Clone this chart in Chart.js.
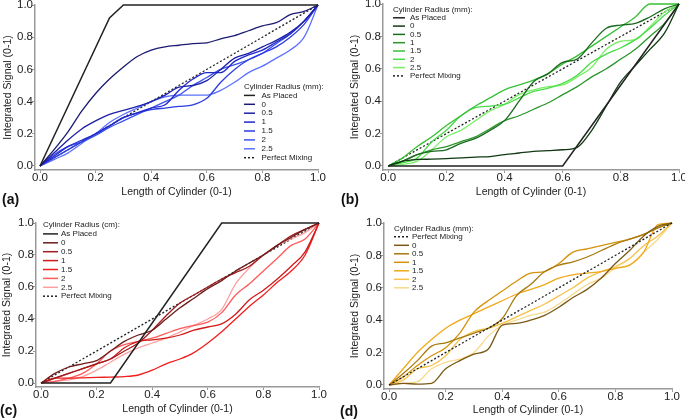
<!DOCTYPE html>
<html>
<head>
<meta charset="utf-8">
<script src="https://cdn.jsdelivr.net/npm/chart.js@4/dist/chart.umd.min.js"></script>
<style>
  body { margin: 0; background: #fff; width: 685px; height: 420px; position: relative; overflow: hidden; font-family: "Liberation Sans", Arial, sans-serif; }
  canvas { position: absolute; }
  .tag { position: absolute; font-weight: bold; font-size: 14px; color: #111; }
</style>
</head>
<body>
<canvas id="pa" width="340" height="210" style="left:0;top:0"></canvas>
<canvas id="pb" width="345" height="210" style="left:340px;top:0"></canvas>
<canvas id="pc" width="340" height="210" style="left:0;top:210px"></canvas>
<canvas id="pd" width="345" height="210" style="left:340px;top:210px"></canvas>
<div class="tag" style="left:2px;top:191px">(a)</div>
<div class="tag" style="left:341px;top:191px">(b)</div>
<div class="tag" style="left:0;top:402px">(c)</div>
<div class="tag" style="left:340px;top:403px">(d)</div>
<script>
// position along the cylinder, shared by every measured curve
var xPos = [0, 0.05, 0.1, 0.15, 0.2, 0.25, 0.3, 0.35, 0.4, 0.45, 0.5, 0.55, 0.6, 0.65, 0.7, 0.75, 0.8, 0.85, 0.9, 0.95, 1];
var radii = ['0', '0.5', '1', '1.5', '2', '2.5'];
var tickVals = [0, 0.2, 0.4, 0.6, 0.8, 1.0];
var mixX = [0, 1];
var mixY = [0, 1];

// (a)
var placedAx = [0, 0.25, 0.3, 1];
var placedAy = [0, 0.92, 1, 1];
var a0  = [0, 0.10, 0.21, 0.34, 0.45, 0.54, 0.615, 0.68, 0.72, 0.74, 0.75, 0.76, 0.765, 0.79, 0.81, 0.84, 0.87, 0.89, 0.94, 0.96, 1];
var a05 = [0, 0.08, 0.16, 0.23, 0.28, 0.32, 0.345, 0.37, 0.40, 0.44, 0.49, 0.50, 0.53, 0.60, 0.67, 0.70, 0.74, 0.78, 0.83, 0.90, 1];
var a1  = [0, 0.06, 0.12, 0.16, 0.20, 0.25, 0.30, 0.33, 0.36, 0.38, 0.47, 0.54, 0.58, 0.58, 0.65, 0.69, 0.72, 0.77, 0.82, 0.90, 1];
var a15 = [0, 0.05, 0.10, 0.15, 0.20, 0.25, 0.30, 0.33, 0.35, 0.36, 0.37, 0.38, 0.42, 0.52, 0.60, 0.66, 0.70, 0.74, 0.80, 0.88, 1];
var a2  = [0, 0.07, 0.12, 0.15, 0.19, 0.24, 0.28, 0.32, 0.36, 0.40, 0.44, 0.50, 0.55, 0.60, 0.63, 0.66, 0.70, 0.76, 0.82, 0.90, 1];
var a25 = [0, 0.04, 0.08, 0.14, 0.20, 0.27, 0.32, 0.36, 0.40, 0.43, 0.44, 0.44, 0.44, 0.47, 0.52, 0.58, 0.62, 0.67, 0.72, 0.80, 1];

// (b)
var placedBx = [0, 0.6, 1];
var placedBy = [0, 0, 1];
var b0  = [0, 0.03, 0.04, 0.042, 0.045, 0.05, 0.055, 0.058, 0.07, 0.08, 0.09, 0.095, 0.10, 0.115, 0.22, 0.37, 0.52, 0.62, 0.72, 0.82, 1];
var b05 = [0, 0.03, 0.07, 0.09, 0.10, 0.14, 0.17, 0.22, 0.28, 0.40, 0.52, 0.57, 0.64, 0.66, 0.76, 0.85, 0.87, 0.88, 0.92, 0.97, 1];
var b1  = [0, 0.03, 0.07, 0.10, 0.12, 0.15, 0.18, 0.23, 0.28, 0.31, 0.35, 0.39, 0.44, 0.49, 0.55, 0.60, 0.66, 0.72, 0.80, 0.88, 1];
var b15 = [0, 0.05, 0.12, 0.18, 0.25, 0.31, 0.37, 0.42, 0.47, 0.50, 0.53, 0.57, 0.63, 0.68, 0.74, 0.80, 0.86, 0.92, 1.0, 1.0, 1];
var b2  = [0, 0.02, 0.05, 0.15, 0.22, 0.31, 0.36, 0.37, 0.38, 0.42, 0.46, 0.48, 0.51, 0.56, 0.64, 0.69, 0.73, 0.78, 0.85, 0.93, 1];
var b25 = [0, 0.01, 0.03, 0.10, 0.18, 0.22, 0.28, 0.34, 0.38, 0.44, 0.47, 0.49, 0.50, 0.55, 0.61, 0.72, 0.77, 0.78, 0.86, 0.95, 1];

// (c)
var placedCx = [0, 0.25, 0.65, 1];
var placedCy = [0, 0, 1, 1];
var c0  = [0, 0.06, 0.10, 0.12, 0.14, 0.20, 0.26, 0.30, 0.33, 0.40, 0.47, 0.53, 0.59, 0.64, 0.70, 0.75, 0.80, 0.86, 0.91, 0.96, 1];
var c05 = [0, 0.03, 0.06, 0.09, 0.12, 0.15, 0.20, 0.25, 0.33, 0.42, 0.50, 0.55, 0.60, 0.65, 0.69, 0.73, 0.80, 0.86, 0.92, 0.96, 1];
var c1  = [0, 0.03, 0.06, 0.09, 0.12, 0.15, 0.22, 0.26, 0.27, 0.28, 0.30, 0.33, 0.35, 0.37, 0.43, 0.52, 0.58, 0.65, 0.73, 0.82, 1];
var c15 = [0, 0.03, 0.03, 0.032, 0.035, 0.037, 0.04, 0.05, 0.08, 0.12, 0.15, 0.19, 0.25, 0.32, 0.40, 0.48, 0.55, 0.63, 0.70, 0.80, 1];
var c2  = [0, 0.01, 0.03, 0.06, 0.12, 0.20, 0.24, 0.26, 0.28, 0.31, 0.34, 0.36, 0.38, 0.44, 0.55, 0.62, 0.70, 0.78, 0.86, 0.90, 1];
var c25 = [0, 0.01, 0.02, 0.04, 0.08, 0.13, 0.18, 0.22, 0.25, 0.28, 0.32, 0.36, 0.40, 0.46, 0.62, 0.72, 0.80, 0.86, 0.90, 0.94, 1];

// (d)
var d0  = [0, 0.01, 0.005, 0.01, 0.10, 0.15, 0.19, 0.22, 0.37, 0.38, 0.40, 0.43, 0.48, 0.54, 0.59, 0.66, 0.75, 0.83, 0.92, 0.98, 1];
var d05 = [0, 0.07, 0.15, 0.24, 0.26, 0.29, 0.32, 0.35, 0.41, 0.55, 0.62, 0.70, 0.74, 0.76, 0.79, 0.83, 0.87, 0.90, 0.93, 0.97, 1];
var d1  = [0, 0.05, 0.12, 0.18, 0.23, 0.32, 0.45, 0.52, 0.58, 0.64, 0.69, 0.70, 0.75, 0.82, 0.84, 0.86, 0.88, 0.90, 0.93, 0.97, 1];
var d15 = [0, 0.10, 0.20, 0.28, 0.35, 0.40, 0.44, 0.48, 0.52, 0.56, 0.59, 0.62, 0.66, 0.68, 0.69, 0.70, 0.72, 0.74, 0.82, 0.99, 1];
var d2  = [0, 0.03, 0.10, 0.12, 0.18, 0.28, 0.33, 0.35, 0.38, 0.42, 0.46, 0.50, 0.55, 0.60, 0.66, 0.70, 0.73, 0.78, 0.86, 0.92, 1];
var d25 = [0, 0.01, 0.02, 0.10, 0.14, 0.16, 0.20, 0.30, 0.37, 0.40, 0.43, 0.45, 0.50, 0.56, 0.62, 0.66, 0.72, 0.74, 0.82, 0.90, 1];

var blues   = ['#1a1a72', '#1c20a6', '#2228c8', '#2b3ce2', '#3a52f2', '#5c72ff'];
var greens  = ['#0f3a12', '#1b6a1f', '#2a962c', '#35c035', '#48dc46', '#7cee6a'];
var reds    = ['#6e1c1c', '#a01c1e', '#d01a1a', '#f01e1e', '#ff5a5a', '#ffa0a0'];
var ambers  = ['#7a5a18', '#a8780e', '#d4920a', '#f0a818', '#f5c24a', '#f8da88'];

function pts(xs, ys) {
  return xs.map(function (x, i) { return { x: x, y: ys[i] }; });
}

function curve(label, ys, color) {
  return { label: label, data: pts(xPos, ys), borderColor: color, borderWidth: 1.3,
    pointRadius: 0, cubicInterpolationMode: 'monotone', clip: false };
}

function placed(xs, ys) {
  return { label: 'As Placed', data: pts(xs, ys), borderColor: '#222', borderWidth: 1.5,
    pointRadius: 0, tension: 0, clip: false };
}

function mixing() {
  return { label: 'Perfect Mixing', data: pts(mixX, mixY), borderColor: '#222', borderWidth: 1.3,
    borderDash: [2, 2], pointRadius: 0, tension: 0, clip: false };
}

// small legend drawn inside the plot, like the original
var miniLegend = {
  id: 'miniLegend',
  afterDatasetsDraw: function (chart, args, o) {
    var ctx = chart.ctx;
    ctx.save();
    ctx.font = '8px "Liberation Sans", Arial, sans-serif';
    ctx.fillStyle = '#222';
    ctx.textBaseline = 'middle';
    ctx.fillText(o.title, o.x, o.y);
    chart.data.datasets.forEach(function (ds, i) {
      var y = o.y + o.row * (i + 1);
      ctx.strokeStyle = ds.borderColor;
      ctx.lineWidth = 1.5;
      ctx.setLineDash(ds.borderDash || []);
      ctx.beginPath();
      ctx.moveTo(o.x, y);
      ctx.lineTo(o.x + o.len, y);
      ctx.stroke();
      ctx.setLineDash([]);
      ctx.fillText(ds.label, o.x + o.len + o.gap, y);
    });
    ctx.restore();
  }
};

function axis(min, title, titlePad, size, tickPad) {
  return {
    type: 'linear', min: min, max: 1,
    afterBuildTicks: function (s) { s.ticks = tickVals.map(function (v) { return { value: v }; }); },
    afterFit: function (s) {
      if (s.isHorizontal()) s.height = size; else s.width = size;
      s.paddingLeft = s.paddingRight = s.paddingTop = s.paddingBottom = 0;
    },
    border: { color: '#999', width: 1.5 },
    grid: { drawOnChartArea: false, drawTicks: true, tickLength: 3, color: '#999' },
    ticks: { color: '#222', padding: tickPad, maxRotation: 0, font: { size: 11.5 },
      callback: function (v) { return Number(v).toFixed(1); } },
    title: { display: true, text: title, color: '#222', font: { size: 10.5 }, padding: titlePad }
  };
}

function panel(id, w, area, datasets, leg, yPad, xPad) {
  new Chart(document.getElementById(id), {
    type: 'line',
    data: { datasets: datasets },
    options: {
      responsive: false,
      animation: false,
      layout: { padding: { left: 0, top: area.top, right: w - area.right, bottom: 0 } },
      scales: {
        x: axis(-0.018, 'Length of Cylinder (0-1)', { top: 0, bottom: xPad }, 210 - area.bottom, -2),
        y: axis(-0.025, 'Integrated Signal (0-1)', { top: yPad, bottom: 0 }, area.left, -1)
      },
      plugins: { legend: { display: false }, tooltip: { enabled: false }, miniLegend: leg }
    },
    plugins: [miniLegend]
  });
}

panel('pa', 340, { left: 35, right: 318, top: 5, bottom: 170 }, [
  placed(placedAx, placedAy),
  curve(radii[0], a0, blues[0]), curve(radii[1], a05, blues[1]), curve(radii[2], a1, blues[2]),
  curve(radii[3], a15, blues[3]), curve(radii[4], a2, blues[4]), curve(radii[5], a25, blues[5]),
  mixing()
], { title: 'Cylinder Radius (mm):', x: 244, y: 86.5, row: 8.9, len: 11, gap: 6.5 }, 2, 12);

panel('pb', 345, { left: 43, right: 339, top: 4, bottom: 170 }, [
  placed(placedBx, placedBy),
  curve(radii[0], b0, greens[0]), curve(radii[1], b05, greens[1]), curve(radii[2], b1, greens[2]),
  curve(radii[3], b15, greens[3]), curve(radii[4], b2, greens[4]), curve(radii[5], b25, greens[5]),
  mixing()
], { title: 'Cylinder Radius (mm):', x: 53, y: 9.5, row: 8.3, len: 12, gap: 5 }, 8.7, 12);

panel('pc', 340, { left: 36, right: 319, top: 13, bottom: 177 }, [
  placed(placedCx, placedCy),
  curve(radii[0], c0, reds[0]), curve(radii[1], c05, reds[1]), curve(radii[2], c1, reds[2]),
  curve(radii[3], c15, reds[3]), curve(radii[4], c2, reds[4]), curve(radii[5], c25, reds[5]),
  mixing()
], { title: 'Cylinder Radius (cm):', x: 43, y: 15, row: 8.9, len: 15, gap: 3 }, 0.7, 4.7);

panel('pd', 345, { left: 44, right: 332, top: 13, bottom: 179 }, [
  mixing(),
  curve(radii[0], d0, ambers[0]), curve(radii[1], d05, ambers[1]), curve(radii[2], d1, ambers[2]),
  curve(radii[3], d15, ambers[3]), curve(radii[4], d2, ambers[4]), curve(radii[5], d25, ambers[5])
], { title: 'Cylinder Radius (mm):', x: 54, y: 18.3, row: 8.5, len: 15, gap: 3 }, 8.7, 3.7);
</script>
</body>
</html>
